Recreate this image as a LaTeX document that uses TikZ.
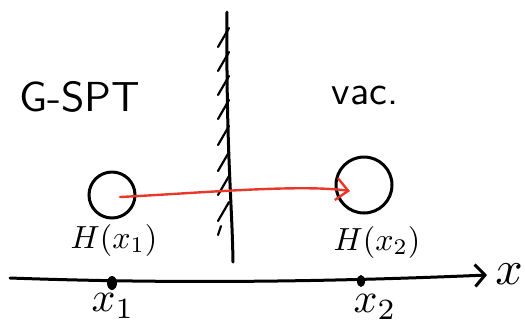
\documentclass[tikz,border=0pt]{standalone}
\usepackage{amsmath}
\usepackage{tikz}
\usetikzlibrary{arrows.meta, calc}
\definecolor{penred}{RGB}{235,55,40}

\begin{document}
\begin{tikzpicture}[x=0.5pt, y=-0.5pt, line width=1.5pt, line cap=round]
            % Frame of the picture
            \useasboundingbox (0,0) rectangle (525,329);

            % Region labels
            \node[font=\sffamily, scale=2.1] (spt) at (80,97) {G-SPT};
            \node[font=\sffamily, scale=2.0] (vac) at (365,95) {vac.};

            % The wall with its hatching on the left side
            \coordinate (wt) at (227,12);
            \coordinate (wb) at (233,262);
            \draw (wt) .. controls (226,150) and (232,200) .. (wb);
            \foreach \y in {28,52,76,100,126,152,176,202} {
                \draw[line width=1.1pt] (229,\y) -- ++(-11,19);
            }
            \draw[line width=1.1pt] (221,226) -- ++(-3,9);

            % The two states
            \node[circle, draw, minimum size=23pt, inner sep=0pt] (h1) at (112,195) {};
            \node[circle, draw, minimum size=28pt, inner sep=0pt] (h2) at (364,185) {};
            \node[scale=1.6] (l1) at (114,240) {$H(x_1)$};
            \node[scale=1.6] (l2) at (377,242) {$H(x_2)$};

            % Transfer across the wall
            \coordinate (tip) at (350,191);
            \draw[-{Straight Barb[length=6pt, width=11pt]}, penred, line width=1.2pt]
                ($(h1.center)+(8,2)$) .. controls (200,193) and (300,184) .. (tip);

            % The x axis with the two positions
            \coordinate (xl) at (10,278);
            \coordinate (xr) at (487,275);
            \draw[-{Straight Barb[length=5pt, width=11pt]}] (xl) .. controls (150,283) and (300,283) .. (xr);
            \node[scale=2.4] (xlab) at (509,274) {$x$};
            \fill (112,283) ellipse (5 and 7);
            \fill (361,281) ellipse (4 and 6);
            \node[scale=2.1] (p1) at (113,306) {$x_1$};
            \node[scale=2.1] (p2) at (375,307) {$x_2$};

        \end{tikzpicture}
\end{document}
